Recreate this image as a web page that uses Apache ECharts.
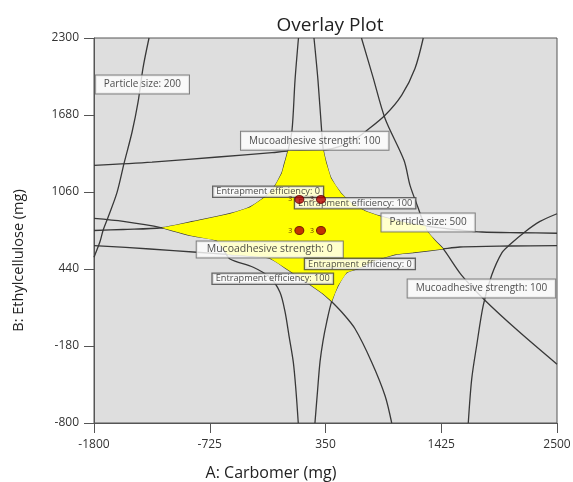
<!DOCTYPE html>
<html><head><meta charset="utf-8">
<script src="https://cdn.jsdelivr.net/npm/echarts@6/dist/echarts.min.js"></script>
<style>html,body{margin:0;padding:0;background:#fff;}#c{width:573px;height:482px;}</style>
</head><body><div id="c"></div>
<script>
// ---- data (A: Carbomer, B: Ethylcellulose) ----
const xTicks = [-1800, -725, 350, 1425, 2500];
const yTicks = [-800, -180, 440, 1060, 1680, 2300];

// contour lines
const particle200 = [[-1289,2300],[-1345,2058],[-1391,1783],[-1447,1541],[-1521,1291],[-1586,1057],[-1670,855],[-1716,750],[-1744,661],[-1800,535]];
const mucoTopArc = [[-1800,1275],[-1261,1301],[-648,1342],[-147,1377],[2,1389],[160,1393],[327,1397],[485,1428],[624,1485],[717,1544],[903,1678],[1058,1840],[1181,2055],[1258,2300]];
const upperLeftBranch = [[99,2300],[67,1961],[39,1557],[2,1392],[-35,1275],[-57,1208],[-135,1087],[-212,1019],[-351,938],[-537,885],[-908,817],[-1171,772],[-1531,758],[-1800,750]];
const upperRightBranch = [[243,2300],[280,1961],[315,1544],[330,1396],[355,1299],[401,1170],[494,1049],[596,968],[717,907],[865,863],[1088,815],[1320,782],[1599,754],[1803,738],[2156,732],[2500,728]];
const particle500 = [[684,2300],[791,1985],[903,1652],[1079,1315],[1135,1113],[1209,936],[1290,750],[1367,669],[1444,602],[1615,389],[1835,185],[2138,-57],[2500,-326]];
const lowerLeftBranch = [[-1800,847],[-1528,823],[-1171,772],[-908,710],[-660,669],[-593,589],[-537,521],[-321,454],[-165,371],[-73,252],[-26,96],[11,-98],[51,-310],[76,-542],[97,-800]];
const lowerMidLeft = [[-1800,629],[-1280,601],[-846,575],[-537,556],[-351,544],[-165,526],[-10,441],[175,333],[330,239],[408,177],[500,94],[624,-41],[779,-310],[903,-580],[965,-800]];
const lowerMidRight = [[252,-800],[276,-542],[299,-308],[327,-138],[361,13],[408,181],[466,306],[547,411],[652,443],[810,508],[995,556],[1163,572],[1444,602],[1599,617],[2063,625],[2500,629]];
const mucoBottomRight = [[1676,-800],[1708,-445],[1754,-176],[1815,147],[1893,389],[1989,572],[2063,637],[2207,742],[2342,823],[2500,885]];

// feasible (yellow) region outline
const feasibleRegion = [[-1171,772],[-908,817],[-537,885],[-351,938],[-212,1019],[-135,1087],[-57,1208],[-35,1275],[2,1392],[160,1395],[330,1396],[355,1299],[401,1170],[494,1049],[596,968],[717,907],[865,863],[1088,815],[1280,787],[1290,750],[1367,669],[1444,602],[1163,572],[995,556],[810,508],[652,443],[547,411],[466,306],[408,181],[330,239],[175,333],[-10,441],[-165,526],[-351,544],[-560,556],[-660,669],[-908,710]];

// design points
const pointsA = [107, 308, 107, 308];
const pointsB = [1000, 1000, 750, 750];
const pointLabels = ['3', '3', '3', '3'];

// contour labels
const labelTexts = ['Particle size: 200','Mucoadhesive strength: 100','Entrapment efficiency: 0','Entrapment efficiency: 100','Particle size: 500','Mucoadhesive strength: 0','Entrapment efficiency: 0','Entrapment efficiency: 100','Mucoadhesive strength: 100'];
const labelA = [-1784, -435, -692, 67, 870, -846, 160, -698, 1113];
const labelB = [1925, 1472, 1062, 970, 815, 597, 481, 362, 282];
const labelKinds = ['big','big','small','small','big','big11','small','small','big'];

// ---- styles ----
const FONT = '"Open Sans", sans-serif';
const labelStyles = {
  big:   {fontSize: 10, lineHeight: 12, padding: [3, 8, 3, 8], borderColor: '#666', borderWidth: 1},
  big11: {fontSize: 10.5, lineHeight: 12, padding: [2, 10, 2, 10], borderColor: '#666', borderWidth: 1},
  small: {fontSize: 9.2, lineHeight: 10, padding: [0, 3, 0, 3], borderColor: '#444', borderWidth: 1.3}
};

const contours = [particle200, mucoTopArc, upperLeftBranch, upperRightBranch, particle500, lowerLeftBranch, lowerMidLeft, lowerMidRight, mucoBottomRight];

const series = contours.map(d => ({
  type: 'line', data: d, showSymbol: false, smooth: 0.3, z: 2, silent: true,
  lineStyle: {color: '#383838', width: 1.3}
}));

series.push({
  type: 'custom', z: 3, silent: true,
  data: feasibleRegion,
  renderItem: function (params, api) {
    if (params.dataIndex !== 0) return null;
    const pts = feasibleRegion.map(p => api.coord(p));
    return {type: 'polygon', shape: {points: pts}, style: {fill: '#ffff00'}};
  }
});

series.push({
  type: 'scatter', z: 4, silent: true, symbolSize: 0,
  data: labelTexts.map((t, i) => {
    const s = labelStyles[labelKinds[i]];
    return {value: [labelA[i], labelB[i]], name: t, label: Object.assign({
      show: true, position: 'right', distance: 0, formatter: t,
      fontFamily: FONT, color: '#222', backgroundColor: '#ffffff'
    }, s)};
  })
});

series.push({
  type: 'scatter', z: 5, silent: true, symbol: 'circle', symbolSize: [9, 8],
  itemStyle: {color: '#b40000', borderColor: '#5a0000', borderWidth: 1},
  data: pointsA.map((a, i) => ({value: [a, pointsB[i]], label: {show: true, formatter: pointLabels[i]}})),
  label: {position: 'left', distance: 2, fontSize: 7, color: '#3a0000', fontFamily: FONT}
});

const plain = v => String(v);

const chart = echarts.init(document.getElementById('c'), null, {renderer: 'canvas'});
chart.setOption({
  animation: false,
  backgroundColor: '#ffffff',
  title: {text: 'Overlay Plot', left: 325, top: 11, textAlign: 'center',
    textStyle: {fontFamily: FONT, fontSize: 19, fontWeight: 'normal', color: '#222'}},
  grid: {left: 94, right: 16, top: 38, bottom: 59, containLabel: false, outerBoundsMode: 'none',
    show: true, backgroundColor: '#dedede', borderColor: '#555', borderWidth: 1},
  xAxis: {
    type: 'value', min: -1800, max: 2500,
    name: 'A: Carbomer (mg)', nameLocation: 'middle', nameGap: 42,
    nameTextStyle: {fontFamily: FONT, fontSize: 16, color: '#222', padding: [0, 109, 0, 0]},
    splitLine: {show: false},
    axisLine: {show: true, onZero: false, lineStyle: {color: '#555'}},
    axisTick: {show: true, length: 10, inside: false, customValues: xTicks, lineStyle: {color: '#555'}},
    axisLabel: {customValues: xTicks, formatter: plain, fontFamily: FONT, fontSize: 12, color: '#333', margin: 16}
  },
  yAxis: {
    type: 'value', min: -800, max: 2300,
    name: 'B: Ethylcellulose (mg)', nameLocation: 'middle', nameGap: 68,
    nameTextStyle: {fontFamily: FONT, fontSize: 14.5, color: '#222', padding: [0, 60, 0, 0]},
    splitLine: {show: false},
    axisLine: {show: true, onZero: false, lineStyle: {color: '#555'}},
    axisTick: {show: true, length: 10, inside: false, customValues: yTicks, lineStyle: {color: '#555'}},
    axisLabel: {customValues: yTicks, formatter: plain, fontFamily: FONT, fontSize: 12, color: '#333', margin: 15, padding: [0, 0, 4, 0]}
  },
  series: series
});
</script></body></html>
